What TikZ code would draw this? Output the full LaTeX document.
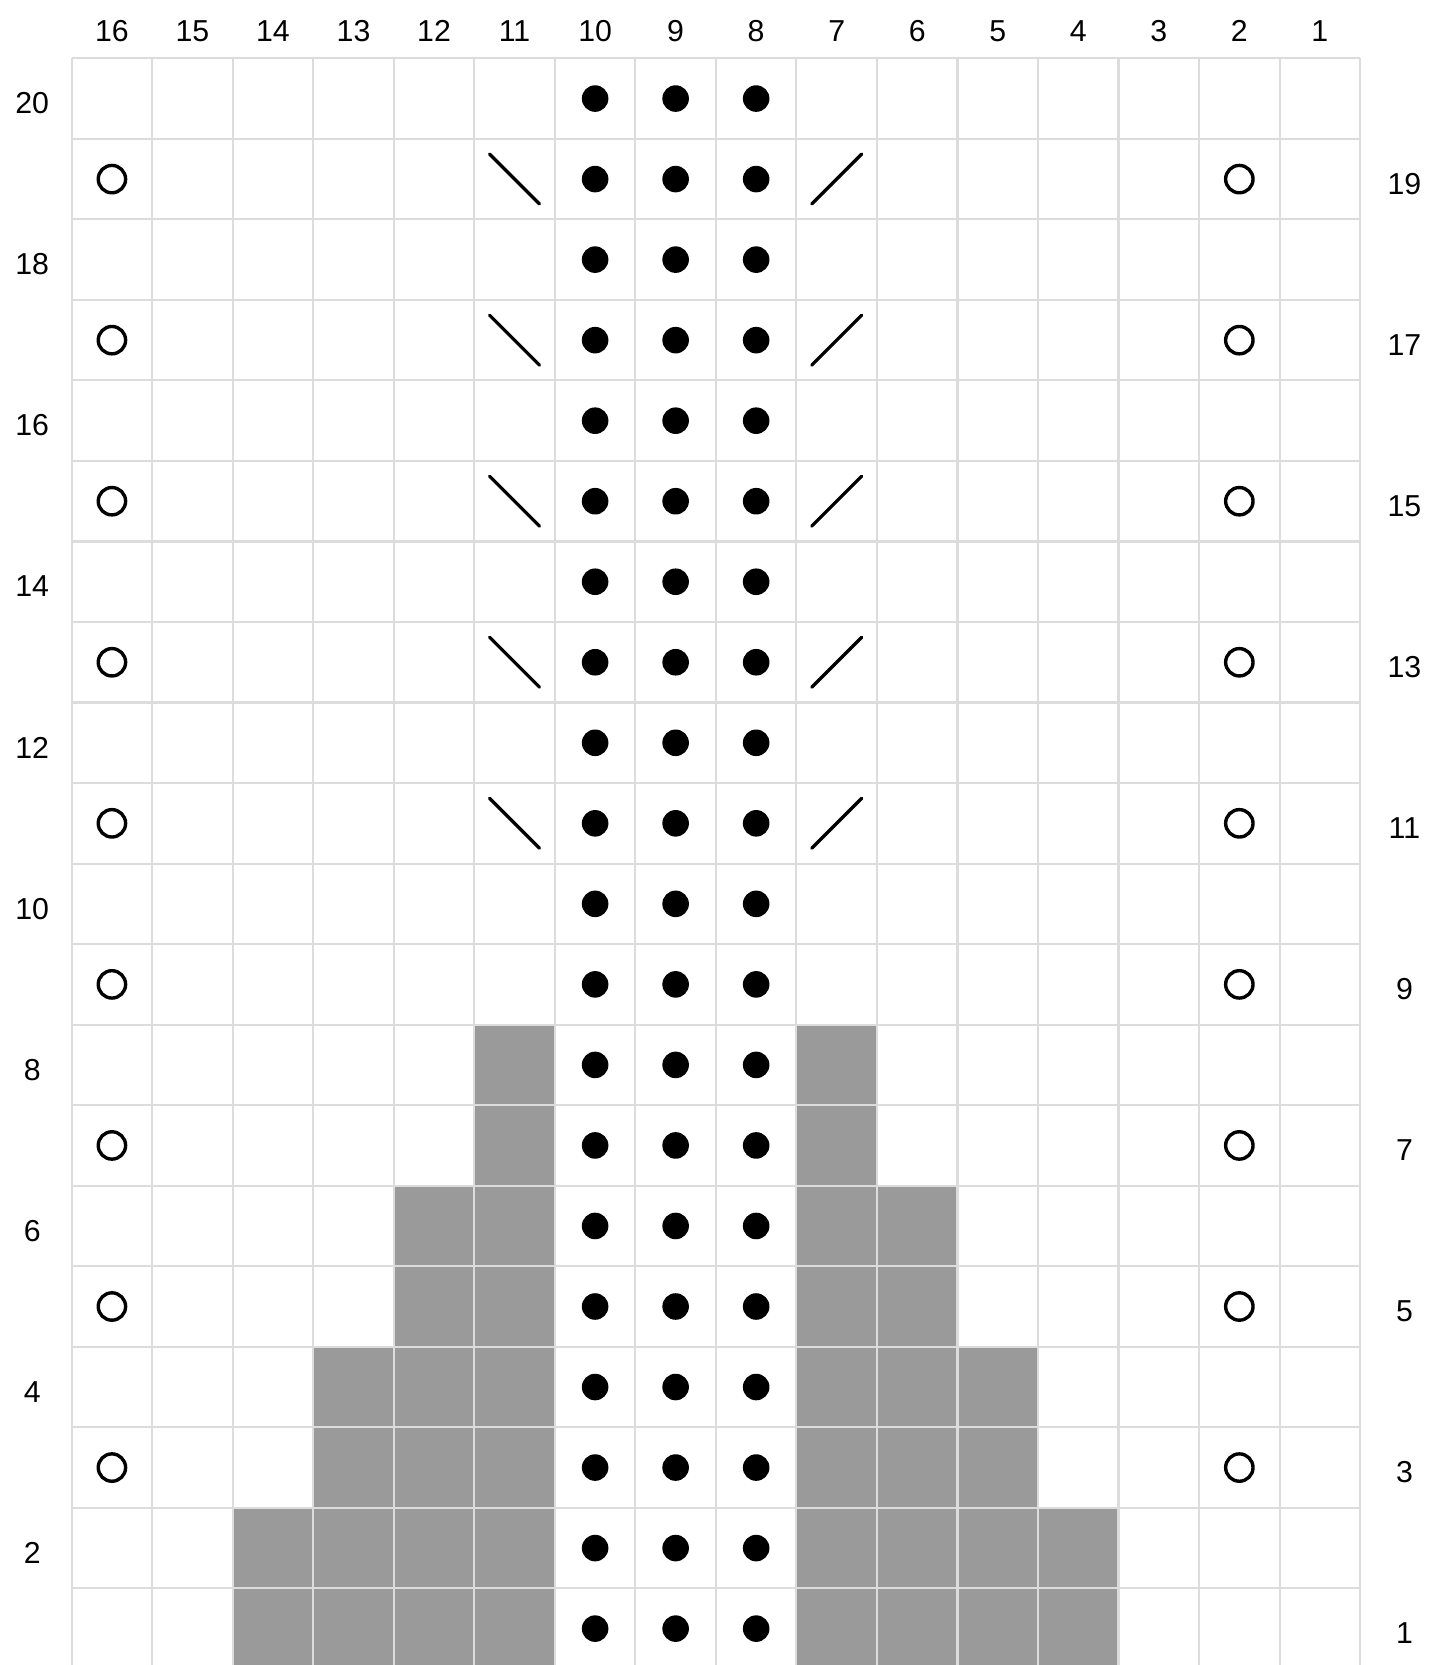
\documentclass[tikz,border=0pt]{standalone}
\usepackage{fontspec}
\setmainfont{Liberation Sans}
\usetikzlibrary{positioning}
\definecolor{gridgray}{HTML}{DCDCDC}
\definecolor{shadegray}{HTML}{9A9A9A}
\tikzstyle{cellgrid} = [draw=gridgray, line width=0.75pt]
\tikzstyle{contrast} = [fill=shadegray]
\tikzstyle{purlst} = [circle, fill=black, inner sep=0pt, minimum size=0.33cm]
\tikzstyle{yarnover} = [circle, draw=black, line width=1.2pt, inner sep=0pt, minimum size=0.34cm]
\tikzstyle{decrease} = [line width=1.15pt, line cap=round]
\tikzstyle{number} = [font=\fontsize{10.7}{12}\selectfont, inner sep=0pt]

\begin{document}
\begin{tikzpicture}[x=1cm, y=1cm]
    \clip (-0.89,0.724) rectangle (16.867,-19.952);

    % shaded blocks beside the purl column
    \foreach \r/\w in {8/1, 7/1, 6/2, 5/2, 4/3, 3/3, 2/4, 1/4} {
        \fill[contrast] (6-\w, \r-20) rectangle (6, \r-21);
        \fill[contrast] (9, \r-20) rectangle (9+\w, \r-21);
    }

    \draw[cellgrid] (0,0) grid (16,-20);

    % purl stitches
    \foreach \r in {1,...,20}
        \foreach \c in {10,9,8}
            \node[purlst] (p\c-\r) at (16.5-\c, \r-20.5) {};

    % yarn overs
    \foreach \r in {3,5,...,19} {
        \node[yarnover] (yoL\r) at (0.5, \r-20.5) {};
        \node[yarnover] (yoR\r) at (14.5, \r-20.5) {};
    }

    % decreases
    \foreach \r in {11,13,...,19} {
        \draw[decrease] (5.19, \r-20.19) -- (5.81, \r-20.81);
        \draw[decrease] (9.19, \r-20.81) -- (9.81, \r-20.19);
    }

    % numbers
    \foreach \c in {1,...,16}
        \node[number] (col\c) at (16.5-\c, 0.34) {\c};
    \foreach \r in {2,4,...,20}
        \node[number] (row\r) at (-0.49, \r-20.56) {\r};
    \foreach \r in {1,3,...,19}
        \node[number] (row\r) at (16.55, \r-20.56) {\r};
\end{tikzpicture}
\end{document}
